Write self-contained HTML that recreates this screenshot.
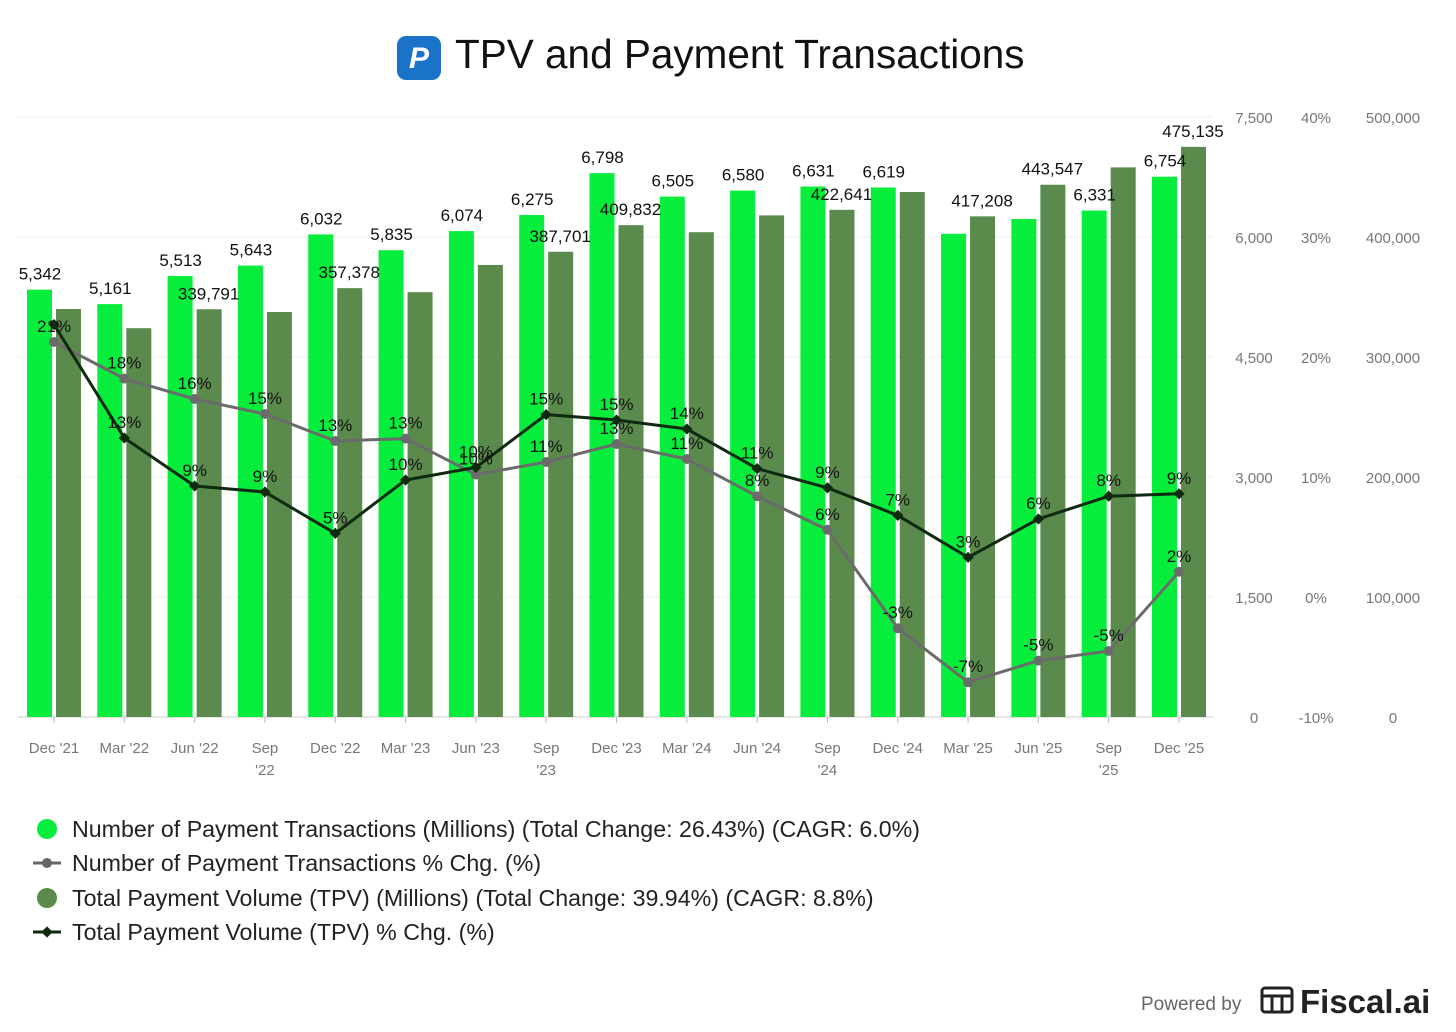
<!DOCTYPE html>
<html><head><meta charset="utf-8"><style>
body{margin:0;background:#fff;font-family:"Liberation Sans",sans-serif;}
svg{display:block}
</style></head><body>
<svg id="c" width="1456" height="1032" viewBox="0 0 1456 1032" xmlns="http://www.w3.org/2000/svg">
<g>
<rect x="397" y="36" width="44" height="44" rx="9" fill="#1a73c8"/>
<text x="419" y="68" font-size="30" font-weight="bold" font-style="italic" fill="#fff" text-anchor="middle" font-family="Liberation Sans,sans-serif">P</text>
<text x="455" y="68" font-size="40.5" fill="#111">TPV and Payment Transactions</text>
</g>
<g id="grid"></g><g id="bars"></g><g id="lines"></g><g id="axes"></g><g id="labels"></g>
<g font-size="23.2" fill="#222">
<g><circle cx="47" cy="829" r="10" fill="#06ee3b"/><text x="72" y="837">Number of Payment Transactions (Millions) (Total Change: 26.43%) (CAGR: 6.0%)</text></g>
<g><line x1="33" y1="863" x2="61" y2="863" stroke="#666" stroke-width="3"/><circle cx="47" cy="863" r="5" fill="#666"/><text x="72" y="871">Number of Payment Transactions % Chg. (%)</text></g>
<g><circle cx="47" cy="898" r="10" fill="#5a8a4c"/><text x="72" y="906">Total Payment Volume (TPV) (Millions) (Total Change: 39.94%) (CAGR: 8.8%)</text></g>
<g><line x1="33" y1="932" x2="61" y2="932" stroke="#0f2a10" stroke-width="3"/><rect x="43" y="928" width="8" height="8" transform="rotate(45 47 932)" fill="#0f2a10"/><text x="72" y="940">Total Payment Volume (TPV) % Chg. (%)</text></g>
</g>
<g>
<text x="1141" y="1010" font-size="19" fill="#666">Powered by</text>
<g stroke="#222" stroke-width="3" fill="none"><rect x="1262" y="988" width="30" height="24" rx="3"/><line x1="1262" y1="996" x2="1292" y2="996"/><line x1="1272" y1="996" x2="1272" y2="1012"/><line x1="1282" y1="996" x2="1282" y2="1012"/></g>
<text x="1300" y="1013" font-size="33" font-weight="bold" fill="#222">Fiscal.ai</text>
</g>
</svg>
<script>
const categories=["Dec '21","Mar '22","Jun '22","Sep '22","Dec '22","Mar '23","Jun '23","Sep '23","Dec '23","Mar '24","Jun '24","Sep '24","Dec '24","Mar '25","Jun '25","Sep '25","Dec '25"];
const transactions=[5342,5161,5513,5643,6032,5835,6074,6275,6798,6505,6580,6631,6619,6040,6225,6331,6754];
const transactionsLabelShown=[1,1,1,1,1,1,1,1,1,1,1,1,1,0,0,1,1];
const tpv=[340000,324000,339791,337500,357378,354000,376700,387701,409832,404000,418000,422641,437500,417208,443547,458000,475135];
const tpvLabelShown=[0,0,1,0,1,0,0,1,1,0,0,1,0,1,1,0,1];
const txnPct=[21.25,18.2,16.5,15.25,13,13.2,10.2,11.25,12.75,11.5,8.4,5.6,-2.6,-7.1,-5.3,-4.5,2.1];
const txnPctLabels=["21%","18%","16%","15%","13%","13%","10%","11%","13%","11%","8%","6%","-3%","-7%","-5%","-5%","2%"];
const tpvPct=[22.7,13.25,9.25,8.75,5.3,9.75,10.8,15.2,14.75,14,10.7,9.1,6.8,3.3,6.5,8.4,8.6];
const tpvPctLabels=["","13%","9%","9%","5%","10%","10%","15%","15%","14%","11%","9%","7%","3%","6%","8%","9%"];
const leftTicks=[0,1500,3000,4500,6000,7500];
const pctTicks=[-10,0,10,20,30,40];
const tpvTicks=[0,100000,200000,300000,400000,500000];

const NS="http://www.w3.org/2000/svg";
const plotTop=117,plotBot=717,plotH=plotBot-plotTop;
const yL=v=>plotBot-v/7500*plotH;
const yR=v=>plotBot-v/500000*plotH;
const yP=v=>plotBot-(v+10)/50*plotH;
const xC=i=>54+i*(1179-54)/(categories.length-1);
function mk(parent,tag,attrs,text){const e=document.createElementNS(NS,tag);for(const k in attrs)e.setAttribute(k,attrs[k]);if(text!==undefined)e.textContent=text;document.getElementById(parent).appendChild(e);return e;}
const fmt=n=>Math.round(n).toLocaleString("en-US");

leftTicks.forEach((t,i)=>{
  const y=yL(t);
  let g=mk("grid","line",{x1:18,x2:1213,y1:y,y2:y,stroke:i==0?"#ccc":"#ececec","stroke-width":1});
  
  
  let a=mk("axes","text",{x:1254,y:y+6,"font-size":15,fill:"#777","text-anchor":"middle"},fmt(t));
  
  
});
pctTicks.forEach(t=>{
  let a=mk("axes","text",{x:1316,y:yP(t)+6,"font-size":15,fill:"#777","text-anchor":"middle"},t+"%");
  
  
});
tpvTicks.forEach(t=>{
  let a=mk("axes","text",{x:1393,y:yR(t)+6,"font-size":15,fill:"#777","text-anchor":"middle"},fmt(t));
  
  
});
categories.forEach((c,i)=>{
  const x=xC(i);
  let tk=mk("axes","line",{x1:x,x2:x,y1:plotBot,y2:plotBot+6,stroke:"#bbb"});
  
  
  const parts=c.split(" ");
  if(c.startsWith("Sep")){
    let a=mk("axes","text",{x:x,y:753,"font-size":15,fill:"#777","text-anchor":"middle"},"Sep");
    
    
    let b=mk("axes","text",{x:x,y:775,"font-size":15,fill:"#777","text-anchor":"middle"},parts[1]);
    
    
  } else {
    let a=mk("axes","text",{x:x,y:753,"font-size":15,fill:"#777","text-anchor":"middle"},c);
    
    
  }
  let b1=mk("bars","rect",{x:x-27,y:yL(transactions[i]),width:25,height:plotBot-yL(transactions[i]),fill:"#06ee3b"});
  
  
  let b2=mk("bars","rect",{x:x+2,y:yR(tpv[i]),width:25,height:plotBot-yR(tpv[i]),fill:"#5a8a4c"});
  
  
  if(transactionsLabelShown[i]){
    let l=mk("labels","text",{x:x-14,y:yL(transactions[i])-10,"font-size":17,fill:"#111","text-anchor":"middle"},fmt(transactions[i]));
    
    
  }
  if(tpvLabelShown[i]){
    let l=mk("labels","text",{x:x+14,y:yR(tpv[i])-10,"font-size":17,fill:"#111","text-anchor":"middle"},fmt(tpv[i]));
    
    
  }
});
function drawLine(vals,labels,color,name,marker){
  const pts=vals.map((v,i)=>xC(i)+","+yP(v)).join(" ");
  let p=mk("lines","polyline",{points:pts,fill:"none",stroke:color,"stroke-width":3});
  
  
  vals.forEach((v,i)=>{
    let m;
    if(marker=="c") m=mk("lines","circle",{cx:xC(i),cy:yP(v),r:5,fill:color});
    else m=mk("lines","rect",{x:xC(i)-4,y:yP(v)-4,width:8,height:8,fill:color,transform:"rotate(45 "+xC(i)+" "+yP(v)+")"});
    
    
    if(labels[i]){
      let l=mk("labels","text",{x:xC(i),y:yP(v)-10,"font-size":17,fill:"#111","text-anchor":"middle"},labels[i]);
      
      
    }
  });
}
drawLine(txnPct,txnPctLabels,"#6b6b6b","transactions-pct","c");
drawLine(tpvPct,tpvPctLabels,"#0f2a10","tpv-pct","d");
</script>
</body></html>
